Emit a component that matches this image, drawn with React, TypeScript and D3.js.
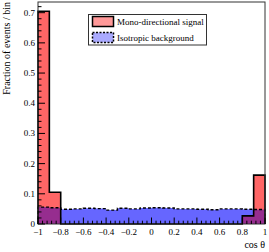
import React, { useEffect, useRef } from 'react';
import * as d3 from 'd3';

// bin edges -1..1, 20 bins of 0.1
const binEdges = d3.range(21).map((i) => -1 + i * 0.1);
const signal = [0.705, 0.105, 0, 0, 0, 0, 0, 0, 0, 0, 0, 0, 0, 0, 0, 0, 0, 0, 0.027, 0.162];
const background = [
  0.056, 0.054, 0.049, 0.05, 0.052, 0.051, 0.046, 0.052, 0.05, 0.053,
  0.054, 0.053, 0.05, 0.05, 0.049, 0.047, 0.05, 0.05, 0.049, 0.048,
];
const xTicks = [-1, -0.8, -0.6, -0.4, -0.2, 0, 0.2, 0.4, 0.6, 0.8, 1];
const yTicks = [0, 0.1, 0.2, 0.3, 0.4, 0.5, 0.6, 0.7];
const legendLabels = ['Mono-directional signal', 'Isotropic background'];

const W = 269;
const H = 252;
const FONT = '"Liberation Serif", "DejaVu Serif", serif';

const fmt = (v: number) => {
  if (Math.abs(v) < 1e-9) return '0';
  const s = Number.isInteger(v) ? String(Math.abs(v)) : String(+Math.abs(v).toFixed(1));
  return (v < 0 ? '\u2212' : '') + s;
};

const App = () => {
  const svgRef = useRef<SVGSVGElement>(null);

  useEffect(() => {
    const svg = d3.select(svgRef.current);
    svg.selectAll('*').remove();

    const x = d3.scaleLinear().domain([-1, 1]).range([38, 265]);
    const y = d3.scaleLinear().domain([0, 0.7354]).range([224, 2]);

    // step points for a histogram
    const steps = (vals: number[]) => {
      const pts: [number, number][] = vals.map((v, i) => [binEdges[i], v]);
      pts.push([binEdges[vals.length], vals[vals.length - 1]]);
      return pts;
    };
    const area = d3
      .area<[number, number]>()
      .x((d) => x(d[0]))
      .y0(y(0))
      .y1((d) => y(d[1]))
      .curve(d3.curveStepAfter);
    const outline = (vals: number[]) => {
      const pts = steps(vals);
      const line = d3
        .line<[number, number]>()
        .x((d) => x(d[0]))
        .y((d) => y(d[1]))
        .curve(d3.curveStepAfter);
      const first = `M${x(binEdges[0])},${y(0)}`;
      const body = line(pts)!.replace(/^M/, 'L');
      return `${first}${body}L${x(binEdges[vals.length])},${y(0)}`;
    };

    const overlap = signal.map((v, i) => Math.min(v, background[i]));

    const g = svg.append('g');

    g.append('path').attr('d', area(steps(background))).attr('fill', '#6666ff');
    g.append('path').attr('d', area(steps(signal))).attr('fill', '#ff6666');
    g.append('path').attr('d', area(steps(overlap))).attr('fill', '#962d8f');

    g.append('path')
      .attr('d', outline(signal))
      .attr('fill', 'none')
      .attr('stroke', '#000')
      .attr('stroke-width', 1.6);
    g.append('path')
      .attr('d', outline(background))
      .attr('fill', 'none')
      .attr('stroke', '#000')
      .attr('stroke-width', 1.4)
      .attr('stroke-dasharray', '3,2');

    // frame
    svg
      .append('rect')
      .attr('x', 38)
      .attr('y', 2)
      .attr('width', 265 - 38)
      .attr('height', 224 - 2)
      .attr('fill', 'none')
      .attr('stroke', '#333')
      .attr('stroke-width', 1);

    // x ticks (inward)
    const xMinor = d3.range(51).map((i) => -1 + i * 0.04);
    svg
      .append('g')
      .selectAll('line')
      .data(xMinor)
      .join('line')
      .attr('x1', (d) => x(d))
      .attr('x2', (d) => x(d))
      .attr('y1', y(0))
      .attr('y2', (d, i) => y(0) - (i % 5 === 0 ? 6.5 : 3.3))
      .attr('stroke', '#000')
      .attr('stroke-width', 1);
    svg
      .append('g')
      .selectAll('text')
      .data(xTicks)
      .join('text')
      .attr('x', (d) => x(d))
      .attr('y', 235)
      .attr('text-anchor', 'middle')
      .attr('font-family', FONT)
      .attr('font-size', 9)
      .text((d) => fmt(d));

    // y ticks
    const yMinor = d3.range(37).map((i) => i * 0.02);
    svg
      .append('g')
      .selectAll('line')
      .data(yMinor)
      .join('line')
      .attr('x1', 38)
      .attr('x2', (d, i) => 38 + (i % 5 === 0 ? 7 : 3.5))
      .attr('y1', (d) => y(d))
      .attr('y2', (d) => y(d))
      .attr('stroke', '#000')
      .attr('stroke-width', 1);
    svg
      .append('g')
      .selectAll('text')
      .data(yTicks)
      .join('text')
      .attr('x', 35)
      .attr('y', (d) => y(d) + 3)
      .attr('text-anchor', 'end')
      .attr('font-family', FONT)
      .attr('font-size', 9)
      .text((d) => fmt(d));

    // axis titles
    svg
      .append('text')
      .attr('transform', 'translate(10,2) rotate(-90)')
      .attr('text-anchor', 'end')
      .attr('font-family', FONT)
      .attr('font-size', 10)
      .text('Fraction of events / bin');
    svg
      .append('text')
      .attr('x', 265)
      .attr('y', 248)
      .attr('text-anchor', 'end')
      .attr('font-family', FONT)
      .attr('font-size', 10)
      .text('cos \u03b8');

    // legend
    const lg = svg.append('g');
    lg.append('rect')
      .attr('x', 88.5)
      .attr('y', 14.5)
      .attr('width', 118)
      .attr('height', 30.5)
      .attr('fill', '#fff')
      .attr('stroke', '#333')
      .attr('stroke-width', 1);
    const swatch = [
      { fill: '#ff9999', dash: null },
      { fill: '#aaaaff', dash: '2,1.5' },
    ];
    swatch.forEach((s, i) => {
      lg.append('rect')
        .attr('x', 92.5)
        .attr('y', 16.5 + i * 16)
        .attr('width', 21)
        .attr('height', 10)
        .attr('fill', s.fill)
        .attr('stroke', '#000')
        .attr('stroke-width', 1.5)
        .attr('stroke-dasharray', s.dash);
      lg.append('text')
        .attr('x', 117)
        .attr('y', 25 + i * 16)
        .attr('font-family', FONT)
        .attr('font-size', 9)
        .text(legendLabels[i]);
    });
  }, []);

  return (
    <svg
      ref={svgRef}
      width={W}
      height={H}
      style={{ position: 'absolute', left: 0, top: 0, background: '#fff' }}
    />
  );
};

export default App;
